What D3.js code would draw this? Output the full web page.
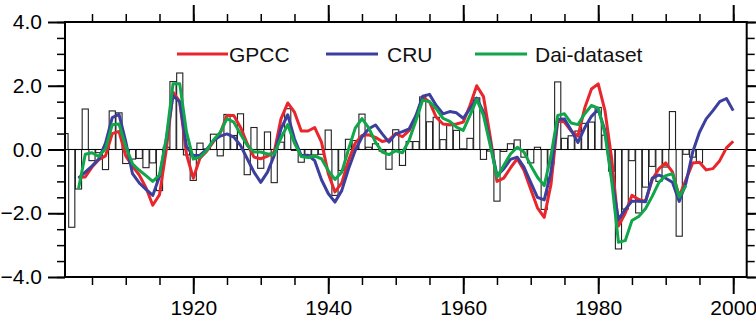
<!DOCTYPE html>
<html>
<head>
<meta charset="utf-8">
<script src="https://cdn.jsdelivr.net/npm/d3@7/dist/d3.min.js"></script>
<style>
  html, body { margin: 0; padding: 0; background: #fff; }
  svg { display: block; font-family: "Liberation Sans", Arial, Helvetica, sans-serif; }
</style>
</head>
<body>
<div id="chart"></div>
<script>
// yearly anomaly bars, 1901-1995
const barStart = 1901;
const barValues = [
  0.5, -2.44, -1.24, 1.27, -0.35, -0.1, -0.63, 1.21, 1.15, -0.44,
  -0.3, -0.28, -0.57, -0.42, -1.29, 0.07, 2.13, 2.4, -0.17, -0.97,
  0.2, 0.02, 0.48, -0.2, 1.1, 0.44, 1.12, -0.79, 0.69, -0.59,
  0.55, -1.04, 0.23, 1.28, -0.03, -0.4, -0.17, -0.17, -0.15, 0.61,
  -1.44, -0.66, 0.32, 0.28, 1.11, 0.07, 0.18, -0.05, -0.62, 0.62,
  -0.5, 0.25, 0.25, 1.65, 0.87, 1.01, 0.31, 0.75, 0.6, 0.02,
  0.35, 1.62, -0.31, -0.05, -1.62, -0.06, 0.18, 0.3, -0.24, -0.42,
  0.07, -1.88, -0.45, 2.12, 0.35, 0.43, 0.58, 0.82, 0.86, 1.32,
  0.45, -0.68, -3.12, -1.87, -0.35, -1.99, -1.18, -0.53, -1.0, -0.55,
  1.19, -2.72, -0.15, -0.24, -0.42
];

// smoothed series, starting 1903
const lineStart = 1903;
const gpcc = [
  -0.88, -0.86, -0.55, -0.32, -0.2, 0.5, 0.57, -0.2, -0.52, -0.8,
  -1.2, -1.75, -1.42, -0.02, 1.8, 1.5, -0.15, -0.9, -0.27, -0.05,
  0.25, 0.52, 1.07, 1.07, 0.7, 0.18, -0.24, -0.29, -0.21, -0.08,
  0.96, 1.46, 1.17, 0.58, 0.58, 0.69, 0.23, -0.75, -1.33, -1.05,
  -0.35, 0.2, 0.44, 0.46, 0.38, 0.25, 0.3, 0.5, 0.4, 0.6,
  1.01, 1.64, 1.5, 1.01, 0.8, 0.78, 0.8, 0.86, 1.38, 2.0,
  1.66, 0.4, -1.0, -0.9, -0.58, -0.29, -0.65, -1.25, -1.83, -2.13,
  -1.1, 0.9, 0.86, 0.58, 0.42, 1.3, 1.9, 2.06, 1.22, -0.3,
  -2.4, -2.0, -1.44, -1.57, -1.63, -0.95, -0.6, -0.42, -0.7, -1.47,
  -0.95, -0.42, -0.4, -0.64, -0.6, -0.35, 0.05, 0.26
];
const cru = [
  -0.9, -0.71, -0.52, -0.3, 0.2, 1.0, 1.1, 0.25, -0.76, -1.05,
  -1.25, -1.44, -0.85, 0.3, 1.69, 1.49, 0.1, -0.19, -0.18, 0.0,
  0.28, 0.42, 0.49, 0.39, 0.13, -0.29, -0.71, -1.03, -0.71, -0.19,
  0.65, 1.09, 0.33, -0.19, -0.18, -0.35, -0.95, -1.38, -1.65, -1.29,
  -0.61, -0.03, 0.39, 0.65, 0.77, 0.49, 0.23, 0.49, 0.56, 0.65,
  1.07, 1.67, 1.73, 1.38, 1.12, 1.19, 1.15, 0.98, 1.28, 1.61,
  1.17, 0.23, -0.82, -0.61, -0.31, -0.24, -0.55, -1.03, -1.5, -1.58,
  -0.71, 0.95, 0.96, 0.6, 0.22, 0.68, 1.04, 1.26, 0.6, -0.9,
  -2.2, -1.88, -1.62, -1.62, -1.64, -0.9, -0.8, -0.9, -1.03, -1.63,
  -1.05, -0.08, 0.54, 0.96, 1.22, 1.5, 1.6, 1.22
];
const dai = [
  -1.23, -0.15, -0.1, -0.22, 0.02, 0.78, 0.8, 0.1, -0.45, -0.65,
  -0.82, -1.0, -0.8, 0.35, 2.06, 2.06, 0.55, -0.3, -0.24, -0.03,
  0.3, 0.54, 0.97, 0.86, 0.49, 0.13, -0.08, -0.08, -0.14, -0.14,
  0.36, 0.78, 0.2, -0.22, -0.25, -0.21, -0.29, -0.66, -0.94, -0.71,
  0.0, 0.67, 0.97, 0.68, 0.23, -0.08, -0.16, -0.04, -0.1, 0.3,
  0.91, 1.55, 1.5, 1.28, 0.98, 0.88, 0.7, 0.6, 1.07, 1.57,
  1.07, 0.13, -0.87, -0.5, -0.14, 0.07, -0.08, -0.5, -0.87, -1.13,
  -0.2, 1.07, 1.12, 0.83, 0.78, 1.12, 1.38, 1.3, 0.5, -1.0,
  -2.91, -2.86, -2.23, -2.1, -1.86, -1.47, -1.03, -0.82, -0.76, -1.49,
  -1.13
];

const seriesNames = ['GPCC', 'CRU', 'Dai-dataset'];
const seriesColors = ['#e8262b', '#3c3f9e', '#10a64a'];

const yMajorTicks = [-4, -2, 0, 2, 4];
const xMajorTicks = [1920, 1940, 1960, 1980, 2000];

const W = 756, H = 324;
const plotLeft = 65, plotRight = 746.7, plotTop = 22, plotBottom = 277;

const svg = d3.select('#chart').append('svg')
  .attr('width', W)
  .attr('height', H);

const x = d3.scaleLinear().domain([1901, 2002]).range([plotLeft, plotRight]);
const y = d3.scaleLinear().domain([-4, 4]).range([plotBottom, plotTop]);

svg.append('clipPath').attr('id', 'plotclip')
  .append('rect')
  .attr('x', plotLeft).attr('y', plotTop)
  .attr('width', plotRight - plotLeft).attr('height', plotBottom - plotTop);

const plot = svg.append('g').attr('clip-path', 'url(#plotclip)');

// bars
const barData = barValues.map((v, i) => ({ year: barStart + i, value: v }));
const bw = x(1) - x(0);
plot.append('g')
  .selectAll('rect')
  .data(barData)
  .enter().append('rect')
  .attr('x', d => x(d.year) - bw / 2 + 0.3)
  .attr('width', bw - 0.6)
  .attr('y', d => y(Math.max(0, d.value)))
  .attr('height', d => Math.abs(y(d.value) - y(0)))
  .attr('fill', '#fff')
  .attr('stroke', '#222')
  .attr('stroke-width', 1.1);

// zero line
plot.append('line')
  .attr('x1', plotLeft).attr('x2', plotRight)
  .attr('y1', y(0)).attr('y2', y(0))
  .attr('stroke', '#000')
  .attr('stroke-width', 1.2);

// smoothed lines
const line = d3.line()
  .x(d => x(d.year))
  .y(d => y(d.value));

[gpcc, cru, dai].forEach((vals, k) => {
  const pts = vals.map((v, i) => ({ year: lineStart + i, value: v }));
  plot.append('path')
    .datum(pts)
    .attr('fill', 'none')
    .attr('stroke', seriesColors[k])
    .attr('stroke-width', 3)
    .attr('stroke-linejoin', 'round')
    .attr('d', line);
});

// axes: major and minor ticks on all four sides
const yMinor = d3.range(-4, 4.01, 0.5);
const xMinor = d3.range(1905, 2002, 5);

function ticks(axisFn, scale, values, size, withLabels, fmt, pad) {
  const a = axisFn(scale).tickValues(values).tickSize(size).tickPadding(pad || 6);
  if (withLabels) a.tickFormat(fmt); else a.tickFormat('');
  return a;
}

const axes = [
  [d3.axisLeft, y, yMinor, 8, false, null, `translate(${plotLeft},0)`],
  [d3.axisLeft, y, yMajorTicks, 17, true, d3.format('.1f'), `translate(${plotLeft},0)`],
  [d3.axisRight, y, yMinor, 8, false, null, `translate(${plotRight},0)`],
  [d3.axisRight, y, yMajorTicks, 17, false, null, `translate(${plotRight},0)`],
  [d3.axisBottom, x, xMinor, 8, false, null, `translate(0,${plotBottom})`],
  [d3.axisBottom, x, xMajorTicks, 17, true, d3.format('d'), `translate(0,${plotBottom})`],
  [d3.axisTop, x, xMinor, 8, false, null, `translate(0,${plotTop})`],
  [d3.axisTop, x, xMajorTicks, 17, false, null, `translate(0,${plotTop})`]
];

axes.forEach(([fn, sc, vals, size, lab, fmt, tr]) => {
  const g = svg.append('g')
    .attr('transform', tr)
    .call(ticks(fn, sc, vals, size, lab, fmt));
  g.select('.domain').remove();
  g.selectAll('.tick line').attr('stroke', '#000').attr('stroke-width', size > 10 ? 2 : 1.5);
  g.selectAll('.tick text')
    .attr('fill', '#000')
    .style('font-size', '21px')
    .style('font-family', '"Liberation Sans", Arial, Helvetica, sans-serif');
});

// frame
svg.append('rect')
  .attr('x', plotLeft).attr('y', plotTop)
  .attr('width', plotRight - plotLeft).attr('height', plotBottom - plotTop)
  .attr('fill', 'none')
  .attr('stroke', '#000')
  .attr('stroke-width', 2);

// legend
const legendItems = [
  { x1: 177, x2: 228, tx: 229 },
  { x1: 326, x2: 378, tx: 387 },
  { x1: 475, x2: 527, tx: 535 }
];
const legend = svg.append('g');
legendItems.forEach((it, k) => {
  legend.append('line')
    .attr('x1', it.x1).attr('x2', it.x2)
    .attr('y1', 54).attr('y2', 54)
    .attr('stroke', seriesColors[k])
    .attr('stroke-width', 3);
  legend.append('text')
    .attr('x', it.tx).attr('y', 62)
    .attr('fill', '#111')
    .style('font-size', '21px')
    .text(seriesNames[k]);
});
</script>
</body>
</html>
